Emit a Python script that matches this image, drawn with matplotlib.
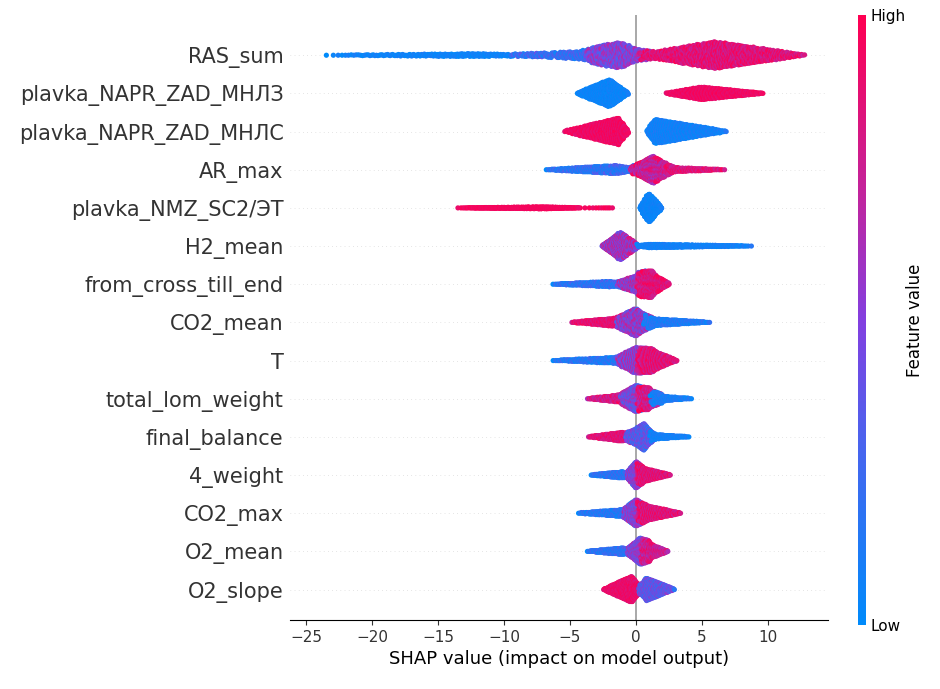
import numpy as np
import matplotlib
matplotlib.use("Agg")
import matplotlib.pyplot as plt
from matplotlib.colors import LinearSegmentedColormap

features = ["RAS_sum", "plavka_NAPR_ZAD_МНЛЗ", "plavka_NAPR_ZAD_МНЛС", "AR_max",
            "plavka_NMZ_SC2/ЭТ", "H2_mean", "from_cross_till_end", "CO2_mean", "T",
            "total_lom_weight", "final_balance", "4_weight", "CO2_max", "O2_mean", "O2_slope"]

# segments per feature: (shap_start, shap_peak, shap_end, n_points, feature_value_low, feature_value_high)
segments = {
    "RAS_sum": [(-24.2, -12, -7, 200, 0.0, 0.12), (-10, -3, 0, 350, 0.05, 0.4), (-4, -1.2, 1.5, 450, 0.3, 0.7),
                (0, 6, 13, 1300, 0.7, 1.0)],
    "plavka_NAPR_ZAD_МНЛЗ": [(-4.5, -2, -0.5, 900, 0.0, 0.1), (2.2, 5, 9.8, 800, 0.85, 1.0)],
    "plavka_NAPR_ZAD_МНЛС": [(-5.5, -1.3, -0.5, 800, 0.85, 1.0), (0.8, 1.5, 7.0, 900, 0.0, 0.15)],
    "AR_max": [(-7, -1.5, 0.5, 450, 0.0, 0.35), (-0.5, 1.3, 3, 700, 0.5, 1.0), (2, 3, 7, 150, 0.7, 1.0)],
    "plavka_NMZ_SC2/ЭТ": [(-13.8, -7, -4, 350, 0.9, 1.0), (-5, -2, -1.5, 12, 0.9, 1.0),
                          (0.3, 1.0, 2.0, 900, 0.0, 0.1)],
    "H2_mean": [(-2.6, -1.2, 0.3, 900, 0.35, 0.85), (0, 1, 9.1, 350, 0.0, 0.15)],
    "from_cross_till_end": [(-6.5, -2, 0, 300, 0.0, 0.35), (-1.5, 0.3, 1.5, 500, 0.3, 0.8), (0, 1.2, 2.6, 500, 0.7, 1.0)],
    "CO2_mean": [(-5, -1.5, 0, 350, 0.75, 1.0), (-1.5, 0, 1.5, 700, 0.3, 0.8), (0.5, 1.5, 5.8, 300, 0.0, 0.25)],
    "T": [(-6.5, -1.5, 0, 300, 0.0, 0.3), (-1.5, 0, 1.5, 600, 0.3, 0.8), (0, 1.3, 3.2, 500, 0.7, 1.0)],
    "total_lom_weight": [(-3.8, -1, 0.5, 300, 0.6, 1.0), (-1.2, 0, 1.2, 500, 0.2, 0.7), (0, 1, 2.2, 350, 0.6, 1.0), (1, 1.8, 4.4, 150, 0.0, 0.2)],
    "final_balance": [(-3.7, -1, 0, 350, 0.7, 1.0), (-0.8, 0.6, 1.5, 650, 0.1, 0.6), (1, 1.5, 4.2, 150, 0.0, 0.15)],
    "4_weight": [(-3.5, -1, 0, 300, 0.0, 0.35), (-0.7, 0, 0.7, 500, 0.3, 0.7), (0, 0.7, 2.7, 450, 0.7, 1.0)],
    "CO2_max": [(-4.5, -1, 0, 300, 0.0, 0.3), (-1, 0, 1, 500, 0.3, 0.7), (0, 1, 3.5, 450, 0.7, 1.0)],
    "O2_mean": [(-3.8, -1, 0, 300, 0.0, 0.35), (-0.7, 0.3, 1.2, 600, 0.3, 0.7), (0.3, 1, 2.5, 400, 0.6, 0.95)],
    "O2_slope": [(-2.5, -0.3, 0.5, 800, 0.8, 1.0), (0.2, 0.8, 3, 650, 0.15, 0.6)],
}

xticks = [-25, -20, -15, -10, -5, 0, 5, 10]

cmap = LinearSegmentedColormap.from_list(
    "rb", [(0, "#008bfb"), (0.3, "#4a63ee"), (0.5, "#833fe0"), (0.7, "#c0259f"), (1, "#ff0052")])

fig = plt.figure(figsize=(9.4, 6.89), dpi=100)
ax = fig.add_axes([0.309, 0.1, 0.572, 0.878])

def tri_points(a, m, b, n):
    u = (np.arange(n) + 0.5) / n
    fc = (m - a) / (b - a)
    return np.where(u < fc, a + np.sqrt(u * (b - a) * (m - a)),
                    b - np.sqrt((1 - u) * (b - a) * (b - m)))

N = len(features)
row_height = 0.4
nbins = 100
for i, f in enumerate(features):
    pos = N - 1 - i
    xs, cs = [], []
    for (a, m, b, n, c0, c1) in segments[f]:
        xs.append(tri_points(a, m, b, n))
        k = (np.arange(n) * 37) % 11 / 10.0
        cs.append(c0 + (c1 - c0) * k)
    x = np.concatenate(xs); c = np.concatenate(cs)
    n = len(x)
    quant = np.round(nbins * (x - x.min()) / (x.max() - x.min() + 1e-8))
    order_key = (np.arange(n) * 7919) % n
    inds = np.lexsort((order_key, quant))
    layer = 0; last = quant[inds[0]]
    ys = np.zeros(n)
    for ind in inds:
        if quant[ind] != last:
            layer = 0
        ys[ind] = np.ceil(layer / 2) * ((layer % 2) * 2 - 1)
        layer += 1
        last = quant[ind]
    ys *= 0.9 * (row_height / np.max(ys + 1))
    ax.axhline(pos, color="#cccccc", lw=0.5, dashes=(1, 5), zorder=-1)
    ax.scatter(x, pos + ys, c=c, cmap=cmap, vmin=0, vmax=1, s=14, linewidths=0, rasterized=True, zorder=3)

ax.axvline(0, color="#999999", lw=1.2, zorder=-1)
ax.set_yticks(range(N))
ax.set_yticklabels(features[::-1], fontsize=15, color="#333333")
ax.set_ylim(-0.8, N - 1 + 1.05)
ax.set_xlim(-26.2, 14.6)
ax.set_xticks(xticks)
ax.set_xticklabels([str(t).replace("-", "−") for t in xticks], fontsize=11)
ax.set_xlabel("SHAP value (impact on model output)", fontsize=13)
for s in ["top", "right", "left"]:
    ax.spines[s].set_visible(False)
ax.tick_params(axis="y", length=0, pad=5)
ax.tick_params(axis="x", colors="#333333")

cax = fig.add_axes([0.913, 0.093, 0.008, 0.885])
sm = plt.cm.ScalarMappable(cmap=cmap, norm=plt.Normalize(0, 1))
cb = fig.colorbar(sm, cax=cax, ticks=[0, 1])
cb.set_ticklabels(["Low", "High"])
cb.ax.tick_params(labelsize=11, length=0)
cb.set_label("Feature value", size=12, labelpad=0)
cb.outline.set_visible(False)

fig.savefig("out.png", dpi=100)
